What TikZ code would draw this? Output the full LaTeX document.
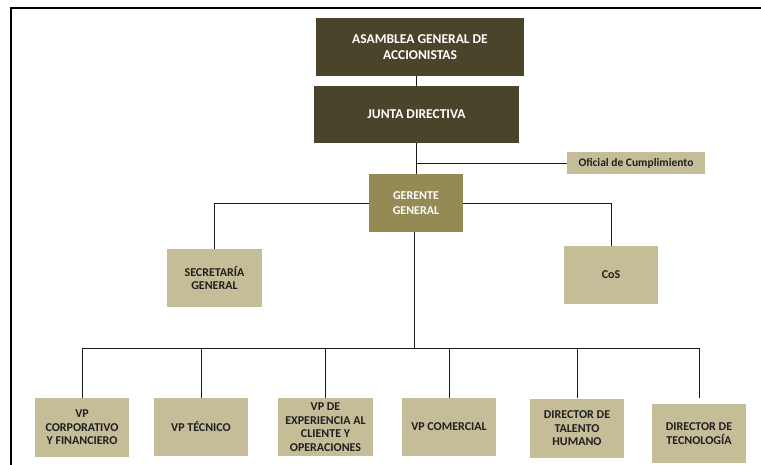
\documentclass[tikz,border=0pt]{standalone}
\usepackage{fontspec}
\setmainfont{Carlito}
\usepackage{tikz}
\usetikzlibrary{positioning}

\begin{document}
\begin{tikzpicture}
[x=1pt,y=-1pt,
top/.style={rectangle,fill=olivedark,text=white,align=center,
  font=\bfseries\fontsize{13.5}{15.5}\selectfont},
gere/.style={rectangle,fill=olivemid,text=white,align=center,
  minimum width=94pt,minimum height=58pt,font=\bfseries\fontsize{12}{14.5}\selectfont},
unit/.style={rectangle,fill=tan,text=textdark,align=center,
  minimum width=94pt,minimum height=58pt,font=\bfseries\fontsize{12}{13.5}\selectfont},
link/.style={draw=linegray,line width=0.9pt}]
\definecolor{olivedark}{HTML}{4A452A}
\definecolor{olivemid}{HTML}{948A54}
\definecolor{tan}{HTML}{C4BD97}
\definecolor{textdark}{HTML}{1F1F1F}
\definecolor{linegray}{HTML}{1A1A1A}
\useasboundingbox (0,0) rectangle (761,465);
\draw[line width=2.8pt] (11,466) -- (11,8) -- (762,8);
% top of the chart
\node at (420,47) [top,minimum width=208pt,minimum height=58pt] (asam) {ASAMBLEA GENERAL DE\\ACCIONISTAS};
\node at (416.5,114.5) [top,minimum width=205pt,minimum height=57pt] (junta) {JUNTA DIRECTIVA};
\node at (636,163) [unit,minimum width=138pt,minimum height=22pt,font=\bfseries\fontsize{11.5}{13}\selectfont] (ofic) {Oficial de Cumplimiento};
\node at (416,203) [gere] (ger) {GERENTE\\GENERAL};
\node at (214.5,278) [unit,minimum width=95pt] (secr) {SECRETARÍA\\GENERAL};
\node at (611,275) [unit] (cos) {CoS};
% bottom row
\node at (82,427.5) [unit,minimum height=59pt] (vpcf) {VP\\CORPORATIVO\\Y FINANCIERO};
\node at (201,427) [unit] (vptec) {VP TÉCNICO};
\node at (325.5,427) [unit,minimum width=95pt,inner ysep=0pt] (vpexp) {VP DE\\EXPERIENCIA AL\\CLIENTE Y\\OPERACIONES};
\node at (449,427) [unit] (vpcom) {VP COMERCIAL};
\node at (577,428.5) [unit,minimum height=59pt] (dirth) {DIRECTOR DE\\TALENTO\\HUMANO};
\node at (699,433.5) [unit,minimum height=59pt] (dirtec) {DIRECTOR DE\\TECNOLOGÍA};
\coordinate (bus) at (414,348);
% connectors
\draw[link] (junta.north) -- (junta.north |- asam.south);
\draw[link] (junta.south) -- (junta.south |- ger.north);
\draw[link] (junta.south |- ofic.west) -- (ofic.west);
\draw[link] (ger.west) -| (secr.north);
\draw[link] (ger.east) -| (cos.north);
\draw[link] (ger.south -| bus) -- (bus);
\draw[link] (vpcf.north |- bus) -- (dirtec.north |- bus);
\foreach \n in {vpcf,vptec,vpexp,vpcom,dirth,dirtec}
  \draw[link] (\n.north |- bus) -- (\n.north |- vpcf.north);
\end{tikzpicture}
\end{document}
